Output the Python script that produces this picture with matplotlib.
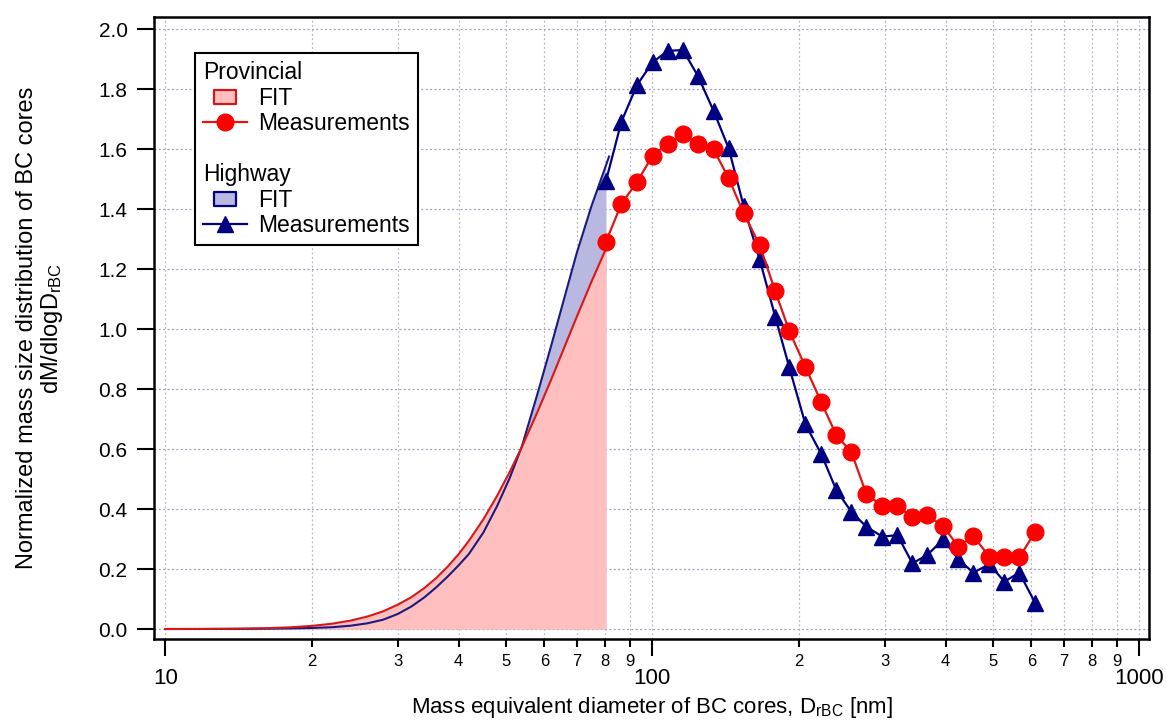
import numpy as np
import matplotlib
matplotlib.use('Agg')
import matplotlib.pyplot as plt
from matplotlib.lines import Line2D
from matplotlib.path import Path
from matplotlib.ticker import FixedLocator
from matplotlib import font_manager

plt.rcParams['font.family'] = ['Liberation Sans', 'DejaVu Sans']
plt.rcParams['mathtext.fontset'] = 'custom'
plt.rcParams['mathtext.rm'] = 'Liberation Sans'
plt.rcParams['mathtext.it'] = 'Liberation Sans:italic'

# the x axis uses a narrow face if one is there
names = {f.name for f in font_manager.fontManager.ttflist}
narrow = 'Liberation Sans Narrow' if 'Liberation Sans Narrow' in names else 'Liberation Sans'

# measured size bins (nm)
d_meas = [80.3, 86.4, 93.0, 100.1, 107.5, 115.6, 124.1, 133.6, 143.5, 154.0,
          166.1, 178.8, 191.1, 206.2, 222.3, 238.7, 256.2, 275.0, 296.7, 318.6,
          342.0, 367.1, 395.8, 425.0, 456.2, 492.0, 528.3, 567.0, 611.5]
prov_meas = [1.291, 1.417, 1.49, 1.578, 1.616, 1.65, 1.617, 1.599, 1.502, 1.386,
             1.28, 1.126, 0.993, 0.874, 0.756, 0.646, 0.59, 0.451, 0.409, 0.411,
             0.372, 0.379, 0.343, 0.274, 0.31, 0.241, 0.239, 0.239, 0.324]
hwy_meas = [1.493, 1.691, 1.813, 1.889, 1.927, 1.93, 1.843, 1.727, 1.602, 1.41,
            1.232, 1.041, 0.872, 0.683, 0.583, 0.463, 0.391, 0.341, 0.308, 0.313,
            0.219, 0.247, 0.299, 0.232, 0.188, 0.216, 0.158, 0.188, 0.086]

# fitted curves below the first bin
d_fit_prov = [10, 12, 14, 16, 18, 20, 22, 24, 26, 28, 30, 32, 34, 36, 38, 40, 42,
              45, 48, 51, 54, 58, 62, 66, 70, 75, 80.3]
prov_fit = [0.0, 0.0004, 0.0011, 0.0027, 0.0056, 0.0104, 0.0177, 0.028, 0.0416,
            0.059, 0.081, 0.106, 0.136, 0.170, 0.208, 0.249, 0.294, 0.366, 0.444,
            0.525, 0.608, 0.721, 0.832, 0.940, 1.042, 1.158, 1.267]
d_fit_hwy = [10, 12, 14, 16, 18, 20, 22, 24, 26, 28, 30, 32, 34, 36, 38, 40, 42,
             45, 48, 51, 54, 58, 62, 66, 70, 75, 80.3, 81.5]
hwy_fit = [0.0, 0.0001, 0.0004, 0.001, 0.002, 0.0035, 0.006, 0.011, 0.019, 0.031,
           0.05, 0.075, 0.105, 0.139, 0.175, 0.212, 0.25, 0.322, 0.41, 0.505, 0.61,
           0.78, 0.945, 1.105, 1.255, 1.41, 1.545, 1.575]

y_ticks = [0.0, 0.2, 0.4, 0.6, 0.8, 1.0, 1.2, 1.4, 1.6, 1.8, 2.0]
x_major = [10, 100, 1000]
x_major_labels = ['10', '100', '1000']
x_minor = [20, 30, 40, 50, 60, 70, 80, 90, 200, 300, 400, 500, 600, 700, 800, 900]
x_minor_labels = ['2', '3', '4', '5', '6', '7', '8', '9'] * 2

pink = '#ffbfbf'
lav = '#b8b8e0'
red = '#ff0000'
red_line = '#e01515'
navy = '#000080'

fig = plt.figure(figsize=(11.67, 7.24), dpi=100)
ax = fig.add_axes([0.1322, 0.1174, 0.8524, 0.8591])

ax.fill_between(d_fit_hwy[:-1], 0, hwy_fit[:-1], color=lav, lw=0, zorder=1)
ax.fill_between(d_fit_prov, 0, prov_fit, color=pink, lw=0, zorder=2)
ax.plot(d_fit_hwy, hwy_fit, color='#1a1a80', lw=1.5, zorder=3)
ax.plot(d_fit_prov, prov_fit, color='#d81818', lw=1.5, zorder=3)

ax.plot(d_meas, hwy_meas, color=navy, lw=1.6, marker='^', markersize=12,
        mfc=navy, mec=navy, zorder=4)
ax.plot(d_meas, prov_meas, color=red_line, lw=1.6, marker='o', markersize=12,
        mfc=red, mec=red, zorder=5)

ax.set_xscale('log')
ax.set_xlim(9.49, 1047)
ax.set_ylim(-0.0333, 2.04)

ax.xaxis.set_major_locator(FixedLocator(x_major))
ax.set_xticklabels(x_major_labels, family=narrow, fontsize=16)
ax.set_xticks(x_minor, minor=True)
ax.set_xticklabels(x_minor_labels, minor=True, family=narrow, fontsize=12)
ax.set_yticks(y_ticks)
ax.set_yticklabels(['%.1f' % v for v in y_ticks], fontsize=15)

ax.tick_params(axis='x', which='major', direction='out', length=12.2, width=1.5, pad=9)
ax.tick_params(axis='x', which='minor', direction='out', length=5.8, width=1.5, pad=5)
ax.tick_params(axis='y', which='major', direction='out', length=12.2, width=1.5, pad=7)

for s in ax.spines.values():
    s.set_linewidth(1.8)

ax.grid(True, which='major', axis='y', color='#9c9cbc', lw=0.9, ls=(0, (1.5, 2)))
ax.grid(True, which='both', axis='x', color='#b8b8cc', lw=0.9, ls=(0, (1.5, 2)))
ax.set_axisbelow(True)

ax.set_xlabel('Mass equivalent diameter of BC cores, D$_{\\mathrm{rBC}}$ [nm]',
              family=narrow, fontsize=16, labelpad=4)
ax.set_ylabel('Normalized mass size distribution of BC cores\ndM/dlogD$_{\\mathrm{rBC}}$',
              fontsize=17, labelpad=24, linespacing=1.05)

# legend with group headers pulled to the left edge
box = Path([(-1.6, -1), (1.6, -1), (1.6, 1), (-1.6, 1), (-1.6, -1)],
           [Path.MOVETO, Path.LINETO, Path.LINETO, Path.LINETO, Path.CLOSEPOLY])
blank = Line2D([], [], ls='none')
handles = [blank,
           Line2D([], [], ls='none', marker=box, markersize=16, mfc=pink, mec='#d01818', mew=1.6),
           Line2D([], [], color=red_line, lw=1.6, marker='o', markersize=12, mfc=red, mec=red),
           blank, blank,
           Line2D([], [], ls='none', marker=box, markersize=16, mfc=lav, mec=navy, mew=1.6),
           Line2D([], [], color=navy, lw=1.6, marker='^', markersize=12, mfc=navy, mec=navy)]
labels = ['Provincial', 'FIT', 'Measurements', ' ', 'Highway', 'FIT', 'Measurements']
leg = ax.legend(handles, labels, loc='upper left', bbox_to_anchor=(0.041, 0.942),
                borderaxespad=0, fontsize=16.5, frameon=True, fancybox=False,
                edgecolor='black', framealpha=1, handlelength=1.9,
                handletextpad=0.5, labelspacing=0.11, borderpad=0.35)
leg.get_frame().set_linewidth(1.5)
for col in leg._legend_handle_box.get_children():
    for row in col.get_children():
        hb, tb = row.get_children()
        if tb.get_text() in ('Provincial', 'Highway'):
            hb.width = 0
            row.sep = 0

fig.savefig('out.png', dpi=100)
